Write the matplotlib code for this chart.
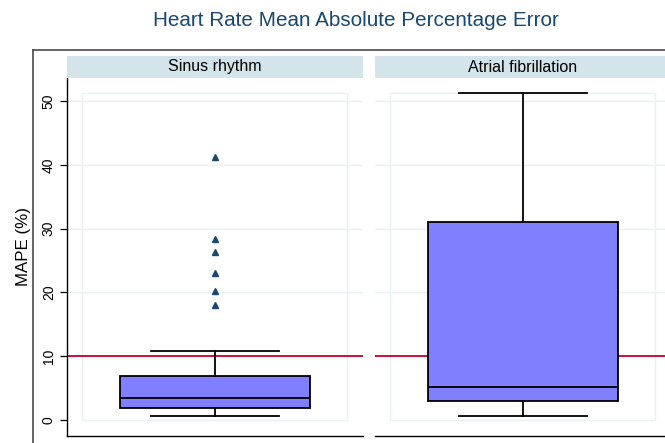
import matplotlib.pyplot as plt
from matplotlib.lines import Line2D
from matplotlib.patches import Rectangle

plt.rcParams['font.family'] = ['Liberation Sans', 'DejaVu Sans']

# --- Data ---
groups = ["Sinus rhythm", "Atrial fibrillation"]
whislo = [0.7, 0.7]
q1 = [1.9, 3.0]
med = [3.4, 5.2]
q3 = [6.9, 31.1]
whishi = [10.8, 51.2]
fliers = [[41.2, 28.4, 26.4, 23.1, 20.2, 18.1], []]
threshold = 10
yticks = [0, 10, 20, 30, 40, 50]

# --- Styling ---
NAVY = '#1a476f'
BOX = '#8080ff'
STRIP = '#d3e4ea'
GRID = '#e8f1f3'
RED = '#c8103a'

fig = plt.figure(figsize=(6.65, 4.43), dpi=100)
W, H = 665, 443

def fx(px):
    return px / W

def fy(py):
    return 1 - py / H

# outer graph frame (cropped at right and bottom)
fig.add_artist(Line2D([fx(33), fx(33)], [fy(50), -0.1], color='#4a4a4a', lw=1.2))
fig.add_artist(Line2D([fx(33), 1.1], [fy(50), fy(50)], color='#4a4a4a', lw=1.2))

fig.text(fx(356), fy(20), "Heart Rate Mean Absolute Percentage Error",
         ha='center', va='center', fontsize=14.9, color=NAVY)
fig.text(fx(24), fy(247), "MAPE (%)", rotation=90, ha='center', va='center', fontsize=12.2)

panel_left = [67, 375]
pw = 296
for i, name in enumerate(groups):
    ax = fig.add_axes([fx(panel_left[i]), fy(436), pw / W, (436 - 78) / H])
    ax.set_xlim(0, 1)
    ax.set_ylim(-2.5, 53.6)

    for t in yticks[1:]:
        ax.axhline(t, color=GRID, lw=1, zorder=0)
    ax.add_patch(Rectangle((0.05, 0), 0.896, 51.2, fill=False, ec=GRID, lw=1, zorder=0))
    ax.axhline(threshold, color=RED, lw=1.4, zorder=1)

    stats = [dict(whislo=whislo[i], q1=q1[i], med=med[i], q3=q3[i],
                  whishi=whishi[i], fliers=fliers[i])]
    ax.bxp(stats, positions=[0.5], widths=0.642, patch_artist=True,
           boxprops=dict(facecolor=BOX, edgecolor='black', lw=1.3),
           medianprops=dict(color='black', lw=1.3),
           whiskerprops=dict(color='black', lw=1.3),
           capprops=dict(color='black', lw=1.3), capwidths=0.43,
           flierprops=dict(marker='^', markerfacecolor=NAVY, markeredgecolor=NAVY,
                           markersize=5, linestyle='none'),
           zorder=2)
    ax.set_xlim(0, 1)
    ax.set_xticks([])

    for s in ['top', 'right']:
        ax.spines[s].set_visible(False)
    ax.spines['bottom'].set_linewidth(1.0)
    if i == 0:
        ax.set_yticks(yticks)
        ax.set_yticklabels([str(t) for t in yticks], rotation=90, va='center', fontsize=10)
        ax.tick_params(axis='y', length=5, width=0.9, pad=3)
        ax.spines['left'].set_linewidth(1.0)
    else:
        ax.set_yticks([])
        ax.spines['left'].set_visible(False)

    # strip header
    fig.add_artist(Rectangle((fx(panel_left[i]), fy(78)), pw / W, 22 / H,
                             transform=fig.transFigure, fc=STRIP, ec='none'))
    fig.text(fx(panel_left[i] + pw / 2), fy(67), name, ha='center', va='center', fontsize=11.5)

fig.savefig("out.png", dpi=100)
